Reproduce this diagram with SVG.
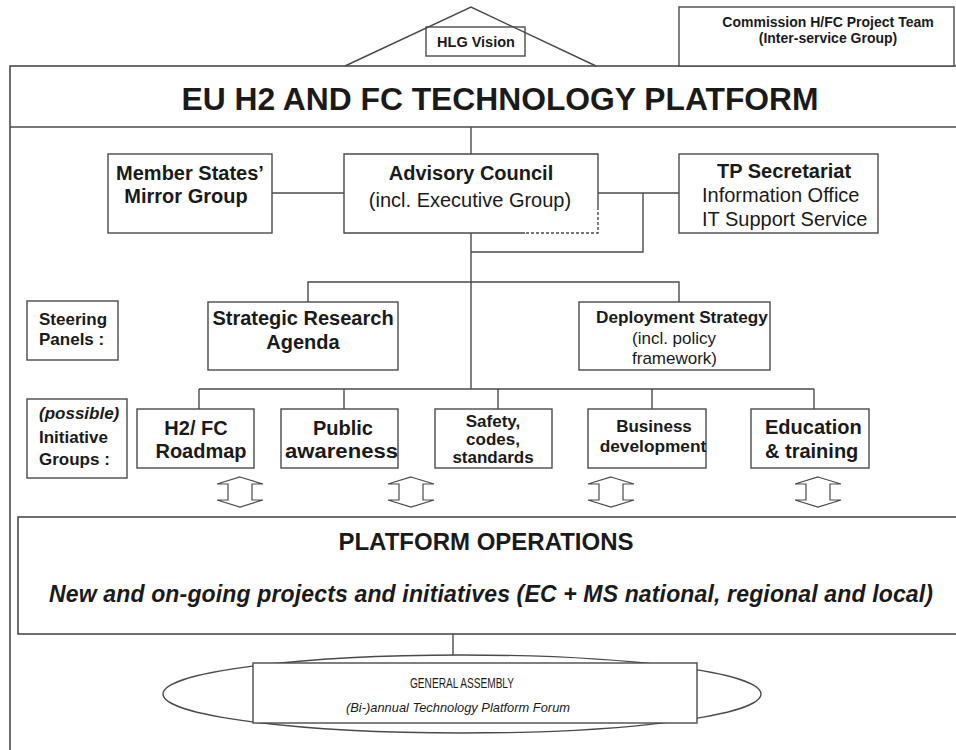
<svg xmlns="http://www.w3.org/2000/svg" width="956" height="750" viewBox="0 0 956 750">
  <style>
    .box { fill: #ffffff; stroke: #4a4a4a; stroke-width: 1.4; }
    .frame { fill: none; stroke: #4a4a4a; stroke-width: 1.6; }
    .ln { fill: none; stroke: #4a4a4a; stroke-width: 1.4; }
    .dash { fill: none; stroke: #4a4a4a; stroke-width: 1.4; stroke-dasharray: 3 2; }
    .arrow { fill: #ffffff; stroke: #4a4a4a; stroke-width: 1.2; stroke-linejoin: miter; }
    text { font-family: "Liberation Sans", Arial, sans-serif; fill: #1a1a1a; }
    .b { font-weight: bold; }
    .c { text-anchor: middle; }
    .it { font-style: italic; }
  </style>

  <!-- platform frame and title band -->
  <g id="platform">
    <rect class="frame" x="10" y="66" width="960" height="700"/>
    <line class="frame" x1="10" y1="127" x2="956" y2="127"/>
    <text class="b c" x="500" y="110" font-size="31.8">EU H2 AND FC TECHNOLOGY PLATFORM</text>
  </g>

  <!-- roof with vision box -->
  <g id="hlg-vision">
    <polyline class="ln" points="345,66 471,7 596,66"/>
    <rect class="box" x="426" y="27" width="99" height="29" style="fill:none"/>
    <text class="b c" x="476" y="47" font-size="14.5">HLG Vision</text>
  </g>

  <g id="commission">
    <rect class="box" x="679" y="7" width="275" height="59"/>
    <text class="b c" x="828" y="27" font-size="14">Commission H/FC Project Team</text>
    <text class="b c" x="828" y="43" font-size="14">(Inter-service Group)</text>
  </g>

  <!-- connectors -->
  <g id="connectors">
    <line class="ln" x1="471" y1="127" x2="471" y2="154"/>
    <line class="ln" x1="272" y1="193" x2="344" y2="193"/>
    <line class="ln" x1="598" y1="193" x2="679" y2="193"/>
    <polyline class="ln" points="643,193 643,252 471,252"/>
    <line class="ln" x1="471" y1="233" x2="471" y2="389"/>
    <polyline class="ln" points="308,302 308,282 679,282 679,302"/>
    <line class="ln" x1="199" y1="389" x2="814" y2="389"/>
    <line class="ln" x1="199" y1="389" x2="199" y2="409"/>
    <line class="ln" x1="344" y1="389" x2="344" y2="409"/>
    <line class="ln" x1="498" y1="389" x2="498" y2="409"/>
    <line class="ln" x1="652" y1="389" x2="652" y2="409"/>
    <line class="ln" x1="814" y1="389" x2="814" y2="409"/>
    <line class="ln" x1="453" y1="634" x2="453" y2="655"/>
  </g>

  <g id="member-states">
    <rect class="box" x="108" y="154" width="164" height="79"/>
    <text class="b c" x="190" y="180" font-size="20">Member States’</text>
    <text class="b c" x="186" y="203" font-size="20">Mirror Group</text>
  </g>

  <g id="advisory-council">
    <path class="ln" d="M525,233 H344 V154 H598 V207"/>
    <path class="dash" d="M598,207 V233 H525"/>
    <text class="b c" x="471" y="180" font-size="20">Advisory Council</text>
    <text class="c" x="470" y="207" font-size="20">(incl. Executive Group)</text>
  </g>

  <g id="tp-secretariat">
    <rect class="box" x="679" y="154" width="199" height="79"/>
    <text class="b c" x="784" y="178" font-size="20">TP Secretariat</text>
    <text x="702" y="202" font-size="20">Information Office</text>
    <text x="702" y="226" font-size="20">IT Support Service</text>
  </g>

  <g id="steering-panels">
    <rect class="box" x="27" y="301" width="91" height="59"/>
    <text class="b" x="39" y="325" font-size="17">Steering</text>
    <text class="b" x="39" y="345" font-size="17">Panels :</text>
  </g>

  <g id="strategic-research-agenda">
    <rect class="box" x="208" y="302" width="190" height="68"/>
    <text class="b c" x="303" y="325" font-size="20">Strategic Research</text>
    <text class="b c" x="303" y="349" font-size="20">Agenda</text>
  </g>

  <g id="deployment-strategy">
    <rect class="box" x="579" y="302" width="191" height="68"/>
    <text class="b" x="596" y="323" font-size="17.2">Deployment Strategy</text>
    <text x="632" y="344" font-size="17">(incl. policy</text>
    <text x="632" y="364" font-size="17">framework)</text>
  </g>

  <g id="initiative-groups">
    <rect class="box" x="27" y="399" width="100" height="79"/>
    <text class="b it" x="39" y="419" font-size="17">(possible)</text>
    <text class="b" x="39" y="443" font-size="17">Initiative</text>
    <text class="b" x="39" y="465" font-size="17">Groups :</text>
  </g>

  <g id="roadmap">
    <rect class="box" x="137" y="409" width="117" height="59"/>
    <text class="b c" x="196" y="435" font-size="20">H2/ FC</text>
    <text class="b c" x="201" y="458" font-size="20">Roadmap</text>
  </g>

  <g id="public-awareness">
    <rect class="box" x="281" y="409" width="117" height="59"/>
    <text class="b c" x="343" y="435" font-size="20">Public</text>
    <text class="b" x="285" y="458" font-size="20" textLength="113" lengthAdjust="spacingAndGlyphs">awareness</text>
  </g>

  <g id="safety-codes-standards">
    <rect class="box" x="435" y="409" width="117" height="59"/>
    <text class="b c" x="493" y="427" font-size="17">Safety,</text>
    <text class="b c" x="493" y="445" font-size="17">codes,</text>
    <text class="b c" x="493" y="463" font-size="17">standards</text>
  </g>

  <g id="business-development">
    <rect class="box" x="588" y="409" width="118" height="59"/>
    <text class="b c" x="654" y="432" font-size="17">Business</text>
    <text class="b c" x="653" y="452" font-size="17.3">development</text>
  </g>

  <g id="education-training">
    <rect class="box" x="751" y="409" width="118" height="59"/>
    <text class="b" x="765" y="434" font-size="20">Education</text>
    <text class="b" x="765" y="458" font-size="20">&amp; training</text>
  </g>

  <!-- two-way block arrows between initiative groups and operations -->
  <defs>
    <path id="two-way" class="arrow" d="M0,477 L23,484 L12,484 L12,500 L23,500 L0,507 L-23,500 L-12,500 L-12,484 L-23,484 Z"/>
  </defs>
  <g id="exchange-arrows">
    <use href="#two-way" x="240"/>
    <use href="#two-way" x="411"/>
    <use href="#two-way" x="611"/>
    <use href="#two-way" x="818"/>
  </g>

  <g id="platform-operations">
    <rect class="frame" x="18" y="517" width="950" height="117"/>
    <text class="b c" x="486" y="550" font-size="24">PLATFORM OPERATIONS</text>
    <text class="b it" x="49" y="602" font-size="23" textLength="884">New and on-going projects and initiatives (EC + MS national, regional and local)</text>
  </g>

  <g id="general-assembly">
    <ellipse class="box" cx="462" cy="694" rx="299" ry="39"/>
    <rect class="box" x="253" y="663" width="444" height="60"/>
    <text class="c" x="462" y="688" font-size="14" textLength="104" lengthAdjust="spacingAndGlyphs">GENERAL ASSEMBLY</text>
    <text class="c it" x="458" y="712" font-size="13.5" textLength="224" lengthAdjust="spacingAndGlyphs">(Bi-)annual Technology Platform Forum</text>
  </g>
</svg>
